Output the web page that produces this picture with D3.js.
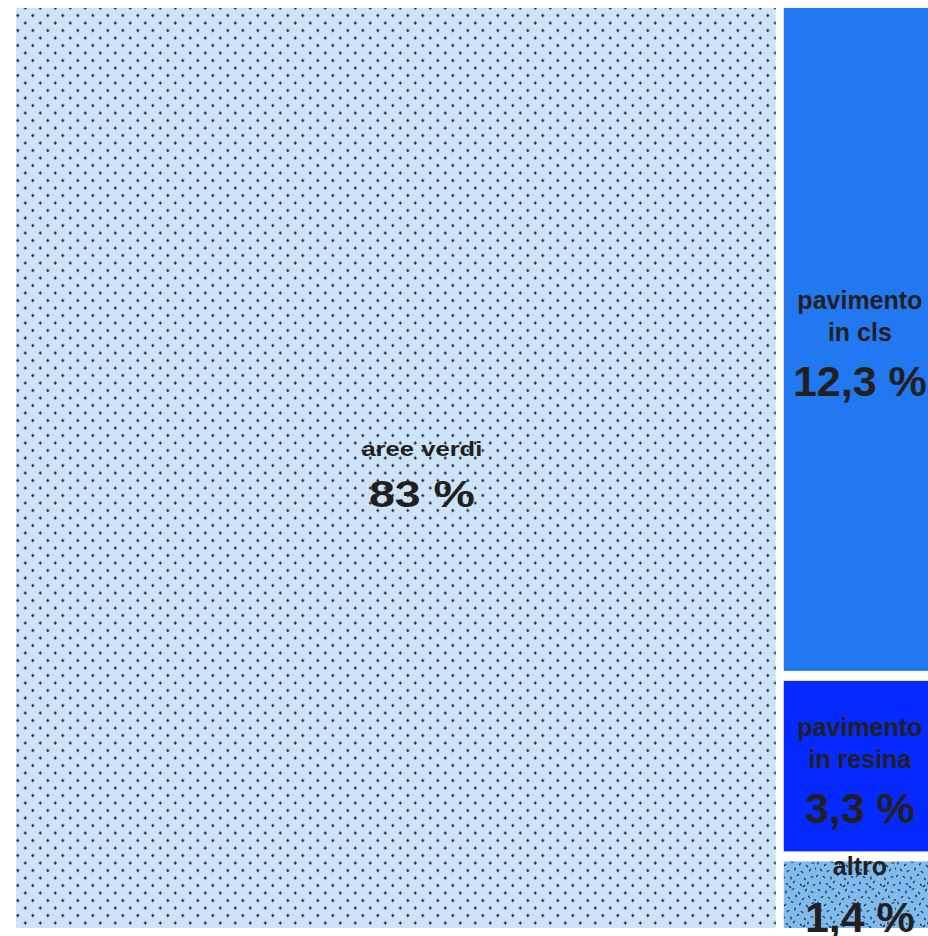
<!DOCTYPE html>
<html>
<head>
<meta charset="utf-8">
<script src="https://cdn.jsdelivr.net/npm/d3@7"></script>
<style>
  html, body { margin: 0; padding: 0; background: #fff; }
  svg { display: block; }
  text { font-family: "Liberation Sans", Arial, Helvetica, sans-serif; fill: #231f20; }
</style>
</head>
<body>
<script>
// ---- data ----
const categories = ["aree verdi", "pavimento in cls", "pavimento in resina", "altro"];
const values = [83, 12.3, 3.3, 1.4];
const valueLabels = ["83 %", "12,3 %", "3,3 %", "1,4 %"];
const nameLines = [["aree verdi"], ["pavimento", "in cls"], ["pavimento", "in resina"], ["altro"]];
const groupOf = ["main", "rest", "rest", "rest"];
const fills = ["url(#dots)", "#2178f0", "#0529fe", "url(#noise)"];

// texture marks for the "altro" pattern tile (x, y, angle)
const noiseMarks = [
  [3,2,30],[10,4,100],[17,1,160],[23,5,60],[30,2,120],[36,4,20],
  [6,9,150],[13,10,40],[20,8,90],[27,11,140],[33,9,70],[39,12,10],
  [2,15,80],[9,17,130],[16,14,20],[24,16,110],[31,18,50],[37,15,160],
  [5,22,60],[12,23,170],[19,21,100],[26,24,30],[34,22,120],[40,21,75],
  [1,28,140],[8,29,40],[15,30,90],[22,27,150],[29,31,70],[36,29,10],
  [4,35,110],[11,36,20],[18,34,130],[25,37,60],[32,35,100],[38,37,160],
  [14,39,45],[28,38,135]
];

const W = 928, H = 936;
const svg = d3.select("body").append("svg").attr("width", W).attr("height", H);

const defs = svg.append("defs");
// dot pattern
const dots = defs.append("pattern")
  .attr("id", "dots").attr("patternUnits", "userSpaceOnUse")
  .attr("x", 13.05).attr("y", 3.75).attr("width", 15).attr("height", 15);
dots.append("rect").attr("width", 15).attr("height", 15).attr("fill", "#cde4f8");
[[3.75, 3.75], [11.25, 11.25]].forEach(([cx, cy]) => {
  dots.append("path")
    .attr("d", `M${cx-1.6},${cy}H${cx+1.6}M${cx},${cy-1.6}V${cy+1.6}`)
    .attr("stroke", "#1a2636").attr("stroke-width", 1);
  dots.append("circle").attr("cx", cx).attr("cy", cy).attr("r", 0.9).attr("fill", "#1a2636");
});
// noise pattern
const noise = defs.append("pattern")
  .attr("id", "noise").attr("patternUnits", "userSpaceOnUse")
  .attr("width", 40).attr("height", 40);
noise.append("rect").attr("width", 40).attr("height", 40).attr("fill", "#80bbee");
noiseMarks.forEach(([x, y, a]) => {
  const r = a * Math.PI / 180, l = 1.4;
  noise.append("line")
    .attr("x1", x - l * Math.cos(r)).attr("y1", y - l * Math.sin(r))
    .attr("x2", x + l * Math.cos(r)).attr("y2", y + l * Math.sin(r))
    .attr("stroke", "#1a2640").attr("stroke-width", 1.2);
});

// ---- hierarchy ----
const leaves = categories.map((c, i) => ({
  name: c, value: values[i], label: valueLabels[i], lines: nameLines[i], fill: fills[i], group: groupOf[i]
}));
const rootData = {
  name: "root",
  children: [
    leaves[0],
    { name: "rest", children: leaves.filter(d => d.group === "rest") }
  ]
};
const root = d3.hierarchy(rootData).sum(d => d.children ? 0 : d.value);

d3.treemap()
  .tile(d3.treemapSliceDice)
  .size([917, 920])
  .paddingInner(d => d.depth === 0 ? 8 : 10)
  (root);

const g = svg.append("g").attr("transform", "translate(16,8)");
const leafNodes = root.leaves();

g.selectAll("rect.cell").data(leafNodes).join("rect")
  .attr("class", "cell")
  .attr("x", d => d.x0).attr("y", d => d.y0)
  .attr("width", d => d.x1 - d.x0).attr("height", d => d.y1 - d.y0)
  .attr("fill", d => d.data.fill);

const labels = g.selectAll("g.lab").data(leafNodes).join("g").attr("class", "lab");
labels.each(function(d) {
  const sel = d3.select(this);
  const cy = (d.y0 + d.y1) / 2;
  const isMain = d.data.group === "main";
  const cx = (d.x0 + d.x1) / 2 + (isMain ? 26 : 1.5);
  const n = d.data.lines.length;
  let last = 0;
  d.data.lines.forEach((line, i) => {
    const y = n === 1 ? cy - 19.5 : cy - 30 + 32 * i;
    last = y;
    const t = sel.append("text")
      .attr("x", cx).attr("y", isMain ? cy - 12 : y)
      .attr("text-anchor", "middle")
      .style("font-size", isMain ? "21px" : "25px")
      .style("font-weight", "bold")
      .text(line);
    if (isMain) t.attr("textLength", 121).attr("lengthAdjust", "spacingAndGlyphs");
  });
  const tv = sel.append("text")
    .attr("x", cx).attr("y", isMain ? cy + 39 : last + (n === 1 ? 57 : 55))
    .attr("text-anchor", "middle")
    .style("font-size", isMain ? "37px" : "43px")
    .style("font-weight", "bold")
    .text(d.data.label);
  if (isMain) tv.attr("textLength", 106).attr("lengthAdjust", "spacingAndGlyphs");
});
</script>
</body>
</html>
